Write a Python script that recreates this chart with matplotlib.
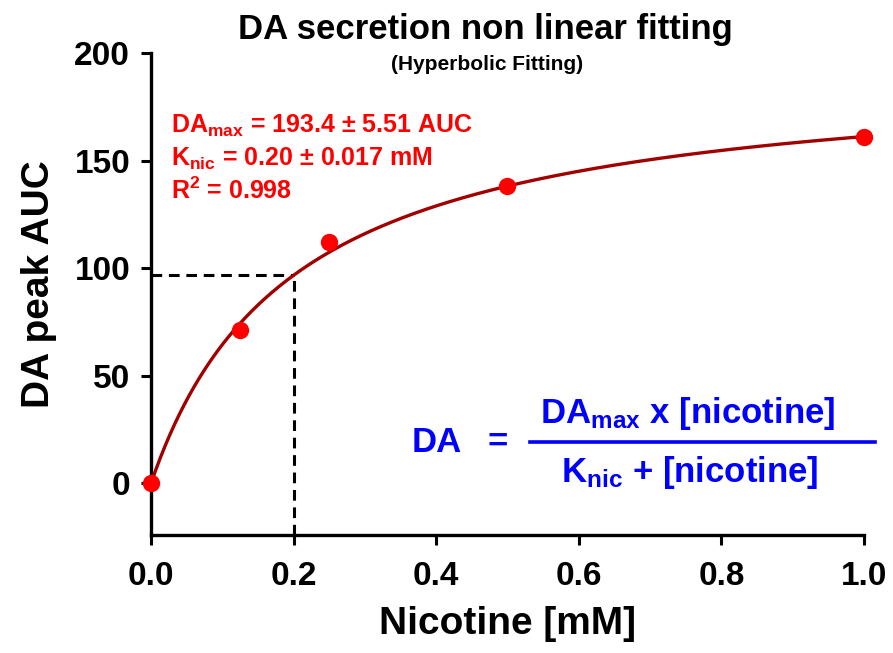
import numpy as np
import matplotlib
matplotlib.use("Agg")
import matplotlib.pyplot as plt
from matplotlib.lines import Line2D

plt.rcParams['font.family'] = ['Liberation Sans', 'DejaVu Sans']
plt.rcParams['font.weight'] = 'bold'
plt.rcParams['mathtext.fontset'] = 'custom'
plt.rcParams['mathtext.rm'] = 'Liberation Sans:bold'
plt.rcParams['mathtext.it'] = 'Liberation Sans:bold'
plt.rcParams['mathtext.bf'] = 'Liberation Sans:bold'

# measured points
nicotine = [0.0, 0.125, 0.25, 0.5, 1.0]
da_auc = [0.0, 71.5, 112.0, 138.0, 161.0]

# hyperbolic fit parameters
da_max = 193.4
da_max_err = 5.51
k_nic = 0.20
k_nic_err = 0.017
r2 = 0.998

x_ticks = [0.0, 0.2, 0.4, 0.6, 0.8, 1.0]
y_ticks = [0, 50, 100, 150, 200]


def hyperbola(x):
    return da_max * x / (k_nic + x)


W, H = 893, 653
fig = plt.figure(figsize=(W / 100, H / 100), dpi=100)
ax = fig.add_axes([151 / W, 1 - 535 / H, (864 - 151) / W, (535 - 53) / H])

xs = np.linspace(0, 1, 300)
ax.plot(xs, hyperbola(xs), color='#a00000', lw=2.4, zorder=3, clip_on=False)
ax.plot(nicotine, da_auc, 'o', color='#ff0000', ms=12.5, mec='none',
        zorder=4, clip_on=False)

ymin = -24
half = hyperbola(k_nic)
ax.plot([0, k_nic], [half, half], color='black', lw=2.2, dashes=(3.5, 2.2), zorder=2)
ax.plot([k_nic, k_nic], [ymin, half], color='black', lw=2.2, dashes=(3.5, 2.2), zorder=2)

ax.set_xlim(0, 1.0)
ax.set_ylim(ymin, 200)
ax.set_xticks(x_ticks)
ax.set_xticklabels(['%.1f' % v for v in x_ticks])
ax.set_yticks(y_ticks)
for s in ['top', 'right']:
    ax.spines[s].set_visible(False)
for s in ['left', 'bottom']:
    ax.spines[s].set_linewidth(2.4)
ax.tick_params(direction='out', length=7, width=2.2, labelsize=24)
ax.tick_params(axis='x', pad=12)
ax.tick_params(axis='y', pad=8)
ax.set_xlabel('Nicotine [mM]', fontsize=28, fontweight='bold', labelpad=10)
ax.set_ylabel('DA peak AUC', fontsize=28, fontweight='bold')
ax.yaxis.set_label_coords(-0.132, 0.52)


def fx(px):
    return px / W


def fy(py):
    return 1 - py / H


fig.text(fx(485), fy(29), 'DA secretion non linear fitting', fontsize=25,
         ha='center', va='center')
fig.text(fx(487), fy(64), '(Hyperbolic Fitting)', fontsize=15,
         ha='center', va='center')

red = '#ff0000'
fig.text(fx(171), fy(133), r'DA$_{\mathrm{max}}$ = %.1f ± %.2f AUC' % (da_max, da_max_err),
         fontsize=18, color=red, va='baseline')
fig.text(fx(171), fy(166), r'K$_{\mathrm{nic}}$ = %.2f ± %.3f mM' % (k_nic, k_nic_err),
         fontsize=18, color=red, va='baseline')
fig.text(fx(171), fy(199), r'R$^{2}$ = %.3f' % r2,
         fontsize=18, color=red, va='baseline')

blue = '#0000ff'
fig.text(fx(412), fy(452), 'DA', fontsize=25, color=blue, va='baseline')
fig.text(fx(488), fy(452), '=', fontsize=25, color=blue, va='baseline')
fig.text(fx(688), fy(423), r'DA$_{\mathrm{max}}$ x [nicotine]', fontsize=25,
         color=blue, va='baseline', ha='center')
fig.text(fx(690), fy(482), r'K$_{\mathrm{nic}}$ + [nicotine]', fontsize=25,
         color=blue, va='baseline', ha='center')
fig.add_artist(Line2D([fx(530), fx(875)], [fy(442), fy(442)], color=blue, lw=2.6))

fig.savefig('out.png', dpi=100)
